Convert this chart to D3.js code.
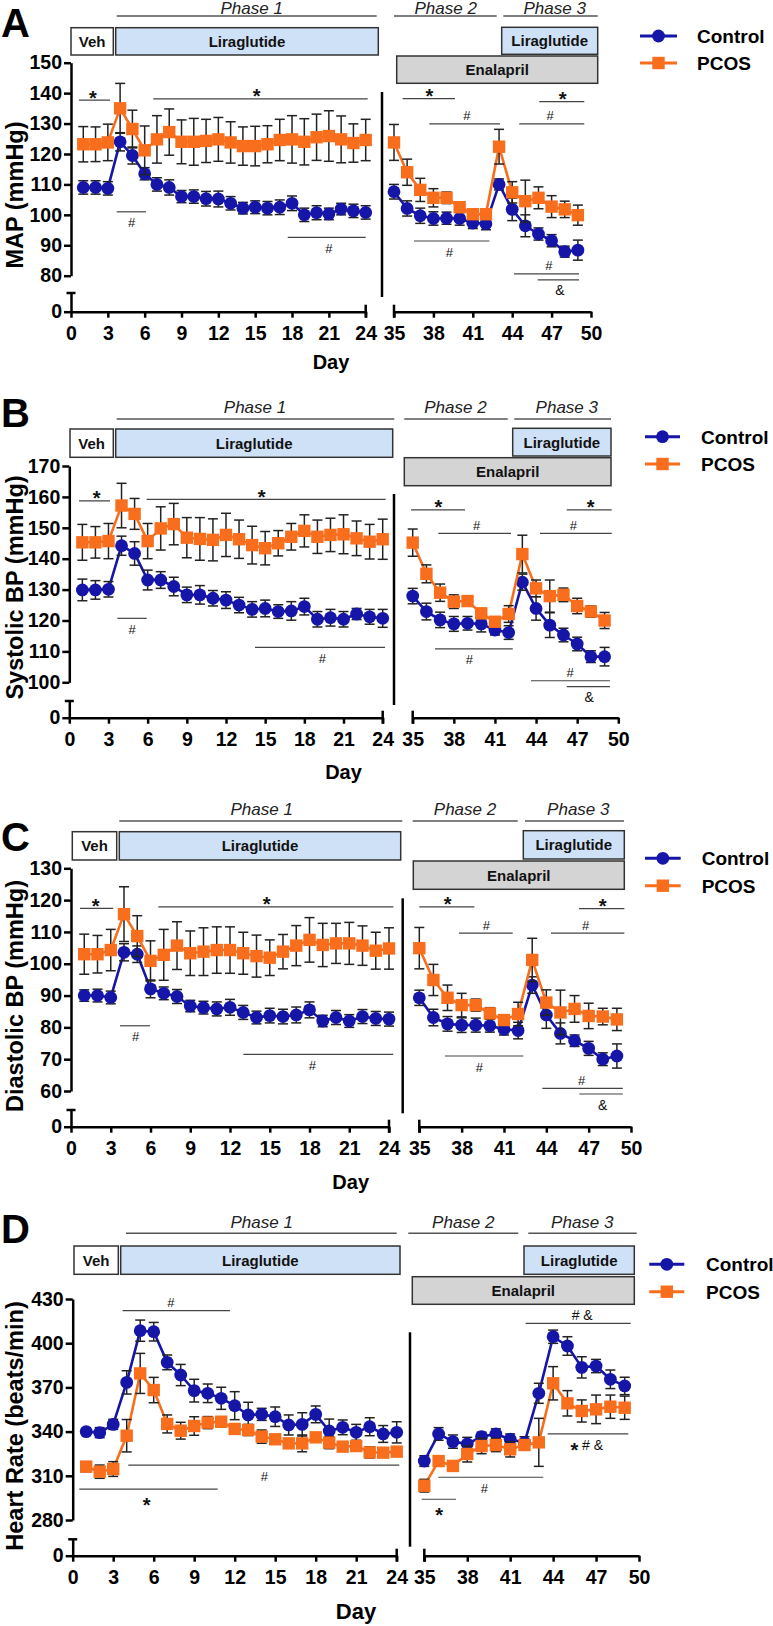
<!DOCTYPE html>
<html><head><meta charset="utf-8">
<script src="https://cdn.jsdelivr.net/npm/d3@7"></script>
<style>
body{margin:0;background:#fff;}
svg{display:block;}
</style></head><body>
<svg id="chart" width="773" height="1626"></svg>
<script>
// ---------------- DATA ----------------
const daysPhase1 = [1,2,3,4,5,6,7,8,9,10,11,12,13,14,15,16,17,18,19,20,21,22,23,24];
const daysPhase23 = [35,36,37,38,39,40,41,42,43,44,45,46,47,48,49];
const xTicksPhase1 = [0,3,6,9,12,15,18,21,24];
const xTicksPhase23 = [35,38,41,44,47,50];
const seriesNames = ["Control","PCOS"];

const yTicksMAP = [80,90,100,110,120,130,140,150];
const yTicksSBP = [100,110,120,130,140,150,160,170];
const yTicksDBP = [60,70,80,90,100,110,120,130];
const yTicksHR  = [280,310,340,370,400,430];

// Panel A: MAP
const mapControl = [109,109,108.7,124,119.5,113.5,110,109,106,106,105.3,105.2,103.8,102.2,102.5,102.2,102.5,103.8,100,100.7,100.3,101.9,101.3,100.8,
  107.6,102.1,99.7,98.8,98.9,98.8,97.3,97.1,110,101.8,96.4,93.7,91.5,87.9,88.4];
const mapControlSem = [2.2,2.2,2.2,3,2.8,2,2.2,2.5,2,2.2,2.4,2.6,2.2,1.9,2.1,2.2,2.4,2.4,2.2,2.3,1.9,1.9,2.2,2.2,
  2.4,2.5,2.5,2.2,2,2.2,1.8,2,1.8,3.7,3.6,2,2,1.8,3.3];
const mapPcos = [123.2,123.2,123.8,135,128.2,121.2,124.8,127.2,124,124,124.3,124.8,123.8,122.6,122.6,123.2,124.6,124.8,124,125.5,125.9,124.8,123.6,124.6,
  123.8,114,108.2,105.6,105.6,102.5,100.2,100.2,122.4,107.4,104.5,105.6,102.7,101.8,99.9];
const mapPcosSem = [5.8,5.7,6,8.2,6.2,8,7.8,7.6,7.2,7.7,7.1,7.2,6.8,6.3,6.5,6.1,6.8,7.8,7.6,7.6,8.3,7.7,6.3,6.8,
  5.9,4.3,3.8,3,1.9,1.7,1.4,1.4,5.7,3.5,6.9,3.6,3.6,2.7,3.3];

// Panel B: Systolic BP
const sbpControl = [129.9,129.9,130.1,144.2,141.7,133.1,133.1,131,128.3,128.3,127.2,126.6,125,123.6,123.9,122.9,123.1,124.5,120.4,120.9,120.4,122.1,121.2,120.7,
  127.9,122.9,120.2,118.9,119.1,118.9,116.9,116.1,132.4,123.9,118.5,115.3,112.4,108.3,108.3];
const sbpControlSem = [3.5,3,2.5,3.1,3.8,3.2,2.7,3,2.5,3,2.5,2.7,2.5,2.5,2.7,2.2,3,2.7,2.5,2.7,2.5,1.8,2.4,2.9,
  2.5,2.7,2.5,2.4,2.2,2.6,1.6,2.2,2.6,3.8,4,2.2,2.2,1.9,3];
const sbpPcos = [145.3,145.3,145.7,157.2,154.5,145.7,149.8,151.2,146.8,146.4,146.1,147.7,146.3,144.4,143.4,145,147.1,149,147.1,147.7,147.9,146.6,145.5,146.3,
  145.2,135.1,129,126.1,126.3,122.3,119.6,122.1,141.5,130.4,127.9,128.3,124.7,122.9,120];
const sbpPcosSem = [5.8,5.1,5.7,7.2,5,5.7,7,6.7,6.5,6.9,6.8,7,6.2,6.1,5.4,4.1,4.3,5.2,5.4,5.4,6.3,5.6,5.6,6.5,
  4.4,2.9,2.8,2.2,1.7,1.6,1.1,2.7,6.1,2.7,5.2,2.2,2.5,1.8,2.6];

// Panel C: Diastolic BP
const dbpControl = [90,90,89.4,103.6,103,92.1,90.7,89.7,86.7,86.2,85.8,86.3,84.7,83.1,83.7,83.4,83.9,85.5,82,83.1,82,83.4,82.8,82.6,
  89.3,83.1,81.1,80.7,80.7,80.5,79.4,79,93.3,83.9,78.1,75.8,73.4,70,71];
const dbpControlSem = [1.8,2,2,2.7,2.6,2.8,2,2.2,1.8,2,2.2,2.5,2.2,2,2.3,2.3,2.5,2.5,1.8,2.2,2,2.2,2.2,2.2,
  2.4,2.6,2.3,2.3,2.2,2,1.8,2.6,2.6,4.2,3.3,1.8,2.2,2,3.8];
const dbpPcos = [103,103,104.3,115.6,108.7,100.9,102.8,105.7,103.3,103.8,104.3,104.3,103.3,102.4,101.9,103.8,105.7,107.5,105.9,106.4,106.4,105.7,104.1,104.8,
  104.9,94.9,89.3,87,87,84.4,82.3,84.2,101.2,87.8,84.7,85.8,83.6,83.4,82.5];
const dbpPcosSem = [6.3,5.9,6.5,8.6,6.4,6.3,8,7.5,7,7.5,7.3,7.3,6.6,6.6,5.6,5.4,6.3,7,6.8,6.3,6.6,6.2,5.8,6.5,
  6.5,4.9,4,3.7,1.9,1.8,1.6,3.7,6.8,4,7,4.2,4,2.6,3.5];

// Panel D: Heart rate
const hrControl = [340,339.3,344.9,373.4,408.5,407.8,387,378.4,367.8,366,362.6,357.6,351.3,351.7,350.1,344.5,344.9,351.7,340.4,342.9,339.5,343.3,338.4,339.5,
  320,338.4,333.2,331.6,336.6,338.4,334.8,332.5,366,404.4,398.1,383.6,384.5,375.5,371];
const hrControlSem = [2,3.4,3.4,7.9,7.2,6.3,5,7.2,7.7,6.3,7.5,9.5,8.6,4.1,6.6,6.8,7.9,5.7,8.1,5,5.4,6.1,5.7,7.2,
  3.6,4.3,4.5,4.5,3,3.5,3.6,4,6.8,4.5,6.3,7.2,4.5,6.3,5.9];
const hrPcos = [316.2,312.8,314.6,337.2,379.5,368.2,345.2,340.6,343.8,346.1,346.7,341.8,341.1,336.6,334.8,332,332,336.1,332.5,329.8,330.2,325.9,325.7,326.4,
  303.3,320,316.7,324.8,330.2,330.9,328,330.9,332.7,372.8,359.2,354,355.1,356.9,356.2];
const hrPcosSem = [3.4,4.5,5,11,13.6,8.6,6.1,5.7,6.3,4.1,3.4,2,3.8,4.5,3,2,5.7,3,4.1,2,2.5,3.8,2,2.5,
  4.3,3,3,5.4,5.2,4.5,5.2,2,16.3,11.3,8.6,7.5,9.7,7.9,7.9];

// Significance bars (day range, value level, label)
const sigMAP = [
  {x1:0.65,x2:3.18,v:137.7,label:"*",lx:1.79,pos:"above"},
  {x1:6.70,x2:24.16,v:138.1,label:"*",lx:15.12,pos:"above"},
  {x1:3.72,x2:6.11,v:101.0,label:"#",lx:4.94,pos:"below"},
  {x1:17.65,x2:24.0,v:92.6,label:"#",lx:21.01,pos:"below"},
  {x1:35.66,x2:39.64,v:138.2,label:"*",lx:37.69,pos:"above"},
  {x1:37.69,x2:43.07,v:129.9,label:"#",lx:40.54,pos:"above"},
  {x1:46.06,x2:49.49,v:137.2,label:"*",lx:47.85,pos:"above"},
  {x1:44.54,x2:49.49,v:129.9,label:"#",lx:46.88,pos:"above"},
  {x1:36.52,x2:42.26,v:91.4,label:"#",lx:39.21,pos:"below"},
  {x1:44.14,x2:49.09,v:80.6,label:"#",lx:46.80,pos:"above"},
  {x1:45.94,x2:49.09,v:78.6,label:"&",lx:47.64,pos:"below"}
];
const sigSBP = [
  {x1:0.74,x2:3.12,v:158.7,label:"*",lx:2.10,pos:"above"},
  {x1:5.93,x2:24.23,v:159.2,label:"*",lx:14.73,pos:"above"},
  {x1:3.68,x2:5.93,v:120.7,label:"#",lx:4.82,pos:"below"},
  {x1:14.22,x2:24.18,v:111.3,label:"#",lx:19.38,pos:"below"},
  {x1:34.88,x2:38.82,v:155.8,label:"*",lx:36.87,pos:"above"},
  {x1:36.87,x2:42.17,v:148.2,label:"#",lx:39.67,pos:"above"},
  {x1:46.24,x2:49.52,v:155.8,label:"*",lx:47.99,pos:"above"},
  {x1:44.29,x2:49.52,v:148.2,label:"#",lx:46.72,pos:"above"},
  {x1:36.63,x2:42.30,v:110.8,label:"#",lx:39.13,pos:"below"},
  {x1:43.63,x2:49.39,v:100.5,label:"#",lx:46.48,pos:"above"},
  {x1:46.24,x2:49.39,v:98.6,label:"&",lx:47.88,pos:"below"}
];
const sigDBP = [
  {x1:0.68,x2:3.19,v:117.4,label:"*",lx:1.86,pos:"above"},
  {x1:6.59,x2:24.33,v:117.9,label:"*",lx:14.77,pos:"above"},
  {x1:3.70,x2:5.96,v:80.5,label:"#",lx:4.88,pos:"below"},
  {x1:13.01,x2:24.32,v:71.5,label:"#",lx:18.21,pos:"below"},
  {x1:35.0,x2:38.90,v:117.9,label:"*",lx:37.01,pos:"above"},
  {x1:37.81,x2:41.62,v:109.6,label:"#",lx:39.76,pos:"above"},
  {x1:46.32,x2:49.53,v:117.3,label:"*",lx:48.0,pos:"above"},
  {x1:44.33,x2:49.53,v:109.6,label:"#",lx:46.79,pos:"above"},
  {x1:36.82,x2:42.37,v:71.0,label:"#",lx:39.25,pos:"below"},
  {x1:43.72,x2:49.42,v:60.8,label:"#",lx:46.50,pos:"above"},
  {x1:46.34,x2:49.42,v:59.05,label:"&",lx:48.0,pos:"below"}
];
const sigHR = [
  {x1:3.70,x2:11.65,v:422.1,label:"#",lx:7.28,pos:"above"},
  {x1:4.12,x2:24.19,v:317.3,label:"#",lx:14.19,pos:"below"},
  {x1:0.49,x2:10.74,v:301.0,label:"*",lx:5.48,pos:"below"},
  {x1:42.08,x2:49.42,v:413.5,label:"# &",lx:46.03,pos:"above"},
  {x1:43.62,x2:49.25,v:338.4,label:"* # &",lx:46.35,pos:"below"},
  {x1:35.98,x2:43.31,v:309.0,label:"#",lx:39.19,pos:"below"},
  {x1:34.82,x2:37.22,v:294.1,label:"*",lx:36.03,pos:"below"}
];

// ---------------- LAYOUT / STYLE ----------------
const FONT = '"Liberation Sans", Arial, Helvetica, sans-serif';
const BLUE = "#1515a8", ORANGE = "#f86e1d";
const svg = d3.select("#chart").attr("font-family", FONT);

const layouts = [
  {letter:"A", letterY:37, yTitle:"MAP (mmHg)", yTitleY:195, dayX:331, dayY:369, daySize:20,
   yAxisX:71, yHi:150, yHiPx:62.7, yLo:80, yLoPx:275.7, axisY:311.7, capY:293,
   x0:71, x24:365.7, x35:394, x50:591, sep:[382,92,297],
   phaseY:16, phaseTextY:14, phase1:[116.7,376.7,251.7], phase2:[394,496.7,445.7], phase3:[503.3,597.7,554.7],
   veh:[71,113.3,27.7,55], lira1:[115.7,378.3,27.7,55], lira2:[501.7,597.7,27.3,54.3], enal:[396.7,597.7,56,83.3],
   legend:{x1:640,x2:677,tx:697,y1:36,y2:63}},
  {letter:"B", letterY:427, yTitle:"Systolic BP (mmHg)", yTitleY:587.5, dayX:343.5, dayY:779, daySize:20,
   yAxisX:69.3, yHi:170, yHiPx:466, yLo:100, yLoPx:682.3, axisY:717.7, capY:701,
   x0:69.3, x24:382.7, x35:412.7, x50:618.3, sep:[394,494,705],
   phaseY:419, phaseTextY:412.7, phase1:[116.7,394.3,255], phase2:[404.3,507.7,455.4], phase3:[514.3,611,566.8],
   veh:[70,113.3,429,457.3], lira1:[115.7,392.7,429,457.3], lira2:[512.7,611,428.3,456], enal:[404.3,611,457.7,485.7],
   legend:{x1:645,x2:680,tx:701,y1:436.7,y2:464}},
  {letter:"C", letterY:851, yTitle:"Diastolic BP (mmHg)", yTitleY:996, dayX:350.7, dayY:1189, daySize:20,
   yAxisX:71, yHi:130, yHiPx:868.3, yLo:60, yLoPx:1091, axisY:1126.7, capY:1110,
   x0:71, x24:389, x35:419.3, x50:631, sep:[402.7,898.3,1113.3],
   phaseY:821, phaseTextY:815.3, phase1:[119.3,402.3,261.7], phase2:[412.7,517.7,465], phase3:[525,624,578.3],
   veh:[72.3,116.7,831.7,860], lira1:[119.3,400.7,831.7,860], lira2:[523.3,624.3,830.7,859], enal:[413.3,624.3,861,889.3],
   legend:{x1:645,x2:680.7,tx:701.7,y1:858.3,y2:885.7}},
  {letter:"D", letterY:1243, yTitle:"Heart Rate (beats/min)", yTitleY:1426, dayX:356, dayY:1619, daySize:22,
   yAxisX:72.7, yHi:430, yHiPx:1299, yLo:280, yLoPx:1520, axisY:1555.7, capY:1539.3,
   x0:72.7, x24:396.7, x35:424.3, x50:639, sep:[410,1332.3,1546.7],
   phaseY:1233.3, phaseTextY:1227.7, phase1:[126,396.7,261.7], phase2:[408.3,518.3,463.3], phase3:[528.3,636.7,582.3],
   veh:[74,118.3,1246,1274.3], lira1:[120.7,400,1246,1274.3], lira2:[524,634.3,1246,1274.3], enal:[412.3,634.3,1276.7,1304.3],
   legend:{x1:649.3,x2:684.3,tx:706,y1:1264.3,y2:1291.7}}
];

const panels = [
  {yTicks:yTicksMAP, ctrl:mapControl, ctrlE:mapControlSem, pcos:mapPcos, pcosE:mapPcosSem, sig:sigMAP},
  {yTicks:yTicksSBP, ctrl:sbpControl, ctrlE:sbpControlSem, pcos:sbpPcos, pcosE:sbpPcosSem, sig:sigSBP},
  {yTicks:yTicksDBP, ctrl:dbpControl, ctrlE:dbpControlSem, pcos:dbpPcos, pcosE:dbpPcosSem, sig:sigDBP},
  {yTicks:yTicksHR,  ctrl:hrControl,  ctrlE:hrControlSem,  pcos:hrPcos,  pcosE:hrPcosSem,  sig:sigHR}
];

const allDays = daysPhase1.concat(daysPhase23);

function drawMarker(sel, kind, x, y, color) {
  if (kind === "circle") {
    sel.append("circle").attr("cx", x).attr("cy", y).attr("r", 6.4).attr("fill", color);
  } else {
    sel.append("rect").attr("x", x - 6.2).attr("y", y - 6.2).attr("width", 12.4).attr("height", 12.4).attr("fill", color);
  }
}

function drawPanel(L, P) {
  const g = svg.append("g");
  const xL = d3.scaleLinear().domain([0, 24]).range([L.x0, L.x24]);
  const xR = d3.scaleLinear().domain([35, 50]).range([L.x35, L.x50]);
  const y = d3.scaleLinear().domain([L.yLo, L.yHi]).range([L.yLoPx, L.yHiPx]);
  const yBrk = d3.scaleLinear().domain([0, L.yLo]).range([L.axisY, L.capY]);
  const xOf = d => d < 30 ? xL(d) : xR(d);

  // panel letter
  g.append("text").attr("x", 1).attr("y", L.letterY).attr("font-size", 40).attr("font-weight", "bold").text(L.letter);

  // phase labels
  [["Phase 1", L.phase1], ["Phase 2", L.phase2], ["Phase 3", L.phase3]].forEach(([t, p]) => {
    g.append("line").attr("x1", p[0]).attr("x2", p[1]).attr("y1", L.phaseY).attr("y2", L.phaseY)
      .attr("stroke", "#555").attr("stroke-width", 1.5);
    g.append("text").attr("x", p[2]).attr("y", L.phaseTextY).attr("text-anchor", "middle")
      .attr("font-size", 17).attr("font-style", "italic").attr("fill", "#222").text(t);
  });

  // treatment boxes
  [["Veh", L.veh, "#ffffff"], ["Liraglutide", L.lira1, "#cfe1f6"], ["Liraglutide", L.lira2, "#cfe1f6"], ["Enalapril", L.enal, "#d4d4d4"]]
    .forEach(([t, b, fill]) => {
      g.append("rect").attr("x", b[0]).attr("y", b[2]).attr("width", b[1] - b[0]).attr("height", b[3] - b[2])
        .attr("fill", fill).attr("stroke", "#333").attr("stroke-width", 1.5);
      g.append("text").attr("x", (b[0] + b[1]) / 2).attr("y", (b[2] + b[3]) / 2 + 5.5).attr("text-anchor", "middle")
        .attr("font-size", 15).attr("font-weight", "bold").attr("fill", "#111").text(t);
    });

  // legend
  const lg = L.legend;
  [[seriesNames[0], BLUE, "circle", lg.y1], [seriesNames[1], ORANGE, "square", lg.y2]].forEach(([t, c, k, yy]) => {
    g.append("line").attr("x1", lg.x1).attr("x2", lg.x2).attr("y1", yy).attr("y2", yy).attr("stroke", c).attr("stroke-width", 3);
    drawMarker(g, k, (lg.x1 + lg.x2) / 2, yy, c);
    g.append("text").attr("x", lg.tx).attr("y", yy + 7).attr("font-size", 19).attr("font-weight", "bold").text(t);
  });

  // separator
  g.append("line").attr("x1", L.sep[0]).attr("x2", L.sep[0]).attr("y1", L.sep[1]).attr("y2", L.sep[2])
    .attr("stroke", "#000").attr("stroke-width", 2.5);

  // axes
  const axes = [];
  axes.push(g.append("g").attr("transform", `translate(${L.yAxisX},0)`)
    .call(d3.axisLeft(y).tickValues(P.yTicks).tickSize(7).tickSizeOuter(0).tickPadding(2)));
  axes.push(g.append("g").attr("transform", `translate(${L.yAxisX},0)`)
    .call(d3.axisLeft(yBrk).tickValues([0]).tickSize(7).tickSizeOuter(0).tickPadding(2)));
  axes.push(g.append("g").attr("transform", `translate(0,${L.axisY})`)
    .call(d3.axisBottom(xL).tickValues(xTicksPhase1).tickSize(6).tickSizeOuter(0).tickPadding(8)));
  axes.push(g.append("g").attr("transform", `translate(0,${L.axisY})`)
    .call(d3.axisBottom(xR).tickValues(xTicksPhase23).tickSize(6).tickSizeOuter(0).tickPadding(8)));
  axes.forEach(a => {
    a.selectAll(".domain, .tick line").attr("stroke", "#000").attr("stroke-width", 2.5);
    a.selectAll("text").attr("font-size", 19.5).attr("font-weight", "bold").attr("fill", "#000").attr("font-family", FONT);
  });
  // axis caps
  g.append("line").attr("x1", L.yAxisX - 4.5).attr("x2", L.yAxisX + 4.5).attr("y1", yBrk(L.yLo)).attr("y2", yBrk(L.yLo))
    .attr("stroke", "#000").attr("stroke-width", 2.5);
  [xL(24), xR(35)].forEach(xx => {
    g.append("line").attr("x1", xx).attr("x2", xx).attr("y1", L.axisY - 7).attr("y2", L.axisY + 6)
      .attr("stroke", "#000").attr("stroke-width", 2.5);
  });

  // axis titles
  g.append("text").attr("transform", `translate(22.5,${L.yTitleY}) rotate(-90)`).attr("text-anchor", "middle")
    .attr("font-size", 23.5).attr("font-weight", "bold").text(L.yTitle);
  g.append("text").attr("x", L.dayX).attr("y", L.dayY).attr("text-anchor", "middle")
    .attr("font-size", L.daySize).attr("font-weight", "bold").text("Day");

  // series
  const series = [
    {vals: P.ctrl, err: P.ctrlE, color: BLUE, kind: "circle"},
    {vals: P.pcos, err: P.pcosE, color: ORANGE, kind: "square"}
  ];
  const line = d3.line().x(d => xOf(d.day)).y(d => y(d.v));
  series.forEach(s => {
    const pts = allDays.map((d, i) => ({day: d, v: s.vals[i], e: s.err[i]}));
    const segs = [pts.filter(p => p.day <= 24), pts.filter(p => p.day >= 35)];
    const sg = g.append("g");
    segs.forEach(seg => {
      sg.append("path").datum(seg).attr("d", line).attr("fill", "none").attr("stroke", s.color)
        .attr("stroke-width", 2.6).attr("stroke-linejoin", "round");
    });
    pts.forEach(p => {
      const cx = xOf(p.day), yt = y(p.v + p.e), yb = y(p.v - p.e);
      sg.append("line").attr("x1", cx).attr("x2", cx).attr("y1", yt).attr("y2", yb).attr("stroke", "#222").attr("stroke-width", 1.5);
      [yt, yb].forEach(yy => sg.append("line").attr("x1", cx - 5).attr("x2", cx + 5).attr("y1", yy).attr("y2", yy)
        .attr("stroke", "#222").attr("stroke-width", 1.5));
    });
    pts.forEach(p => drawMarker(sg, s.kind, xOf(p.day), y(p.v), s.color));
  });

  // significance annotations
  P.sig.forEach(a => {
    const ly = y(a.v);
    g.append("line").attr("x1", xOf(a.x1)).attr("x2", xOf(a.x2)).attr("y1", ly).attr("y2", ly)
      .attr("stroke", "#444").attr("stroke-width", 1.2);
    const t = g.append("text").attr("x", xOf(a.lx)).attr("text-anchor", "middle").attr("fill", "#111");
    if (a.label === "*") {
      t.attr("y", ly + (a.pos === "above" ? 4.5 : 23)).attr("font-size", 20).attr("font-weight", "bold").text("*");
    } else if (a.label === "* # &") {
      t.attr("y", ly + 15.7).attr("font-size", 14);
      t.append("tspan").attr("font-size", 20).attr("font-weight", "bold").attr("dy", 7).text("*");
      t.append("tspan").attr("dy", -7).text(" # &");
    } else {
      t.attr("y", ly + (a.pos === "above" ? -3.5 : 15.5)).attr("font-size", a.label === "#" ? 13 : 14).text(a.label);
    }
  });
}

layouts.forEach((L, i) => drawPanel(L, panels[i]));
</script>
</body></html>
